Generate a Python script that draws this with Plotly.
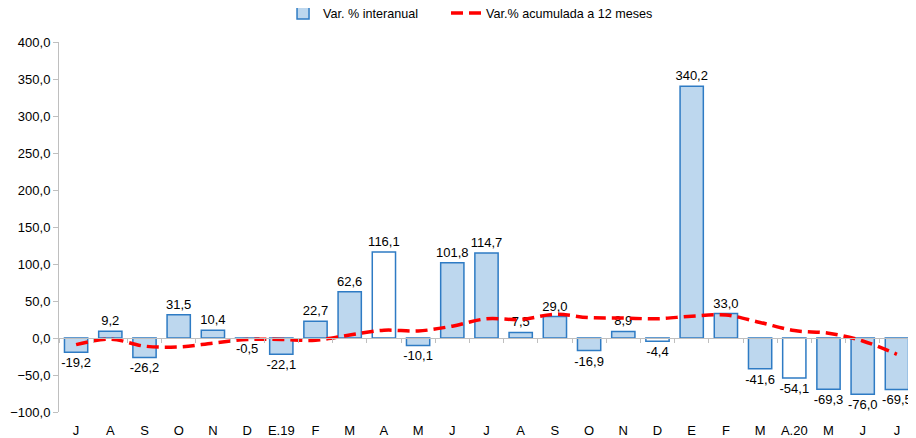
import plotly.graph_objects as go

labels = ["J", "A", "S", "O", "N", "D", "E.19", "F", "M", "A", "M", "J", "J",
          "A", "S", "O", "N", "D", "E", "F", "M", "A.20", "M", "J", "J"]
interanual = [-19.2, 9.2, -26.2, 31.5, 10.4, -0.5, -22.1, 22.7, 62.6, 116.1, -10.1, 101.8, 114.7,
              7.5, 29.0, -16.9, 8.9, -4.4, 340.2, 33.0, -41.6, -54.1, -69.3, -76.0, -69.5]
acumulada = [-9, -1.5, -11, -12, -7, -2, -2, -3, 4, 10.5, 9.5, 16, 26,
             25, 32, 27.5, 27, 26, 29.5, 31, 21, 10, 6.5, -4, -22]
white_idx = [9, 17, 21]

x = list(range(len(labels)))
fills = ["#FFFFFF" if i in white_idx else "#BDD7EE" for i in x]

fig = go.Figure()
fig.add_trace(go.Bar(
    x=x, y=interanual, name="Var. % interanual", legend="legend",
    marker=dict(color=fills, line=dict(color="#2E7BC4", width=1.5)),
    width=0.68,
    texttemplate="%{y:.1f}", textposition="outside", constraintext="none",
    textfont=dict(size=13, color="#000000"), cliponaxis=False,
))
fig.add_trace(go.Scatter(
    x=x, y=acumulada, name="Var.% acumulada a 12 meses", legend="legend2",
    mode="lines", line=dict(color="#FF0000", width=3.5, dash="12px,6px", shape="spline"),
))
# zero-line axis with tick marks at category boundaries
fig.add_trace(go.Scatter(x=[x[0], x[-1]], y=[0, 0], xaxis="x2", mode="lines",
                         line=dict(width=0), showlegend=False, hoverinfo="skip"))

fig.update_layout(
    width=908, height=430,
    margin=dict(l=51, r=2, t=34, b=26, autoexpand=False),
    paper_bgcolor="white", plot_bgcolor="white",
    separators=",.",
    font=dict(family="Liberation Sans, Arial", size=13, color="#000000"),
    showlegend=True,
    legend=dict(orientation="h", xref="container", x=0.3029, xanchor="left",
                yref="paper", y=1.118, yanchor="top", font=dict(size=12.6),
                bgcolor="rgba(0,0,0,0)"),
    legend2=dict(orientation="h", xref="container", x=0.4824, xanchor="left",
                 yref="paper", y=1.118, yanchor="top", font=dict(size=12.6),
                 bgcolor="rgba(0,0,0,0)"),
    bargap=0.32,
    xaxis=dict(range=[-0.5, 24.5], tickvals=x, ticktext=labels, showline=False,
               ticks="", showgrid=False, zeroline=False, tickfont=dict(size=13),
               ticklabelstandoff=9, automargin=False),
    xaxis2=dict(overlaying="x", anchor="free", position=0.2, range=[-0.5, 24.5],
                tickvals=[i + 0.5 for i in x[:-1]] + [-0.5], showticklabels=False,
                ticks="outside", ticklen=4, tickcolor="#BFBFBF", showline=True,
                linecolor="#BFBFBF", linewidth=1, showgrid=False, zeroline=False),
    yaxis=dict(range=[-100, 400], dtick=50, tickformat=".1f", showgrid=False,
               zeroline=False, showline=True, linecolor="#BFBFBF", linewidth=1,
               ticks="outside", ticklen=5, tickcolor="#BFBFBF", tickfont=dict(size=13),
               automargin=False),
)
fig.write_html("out.html")
